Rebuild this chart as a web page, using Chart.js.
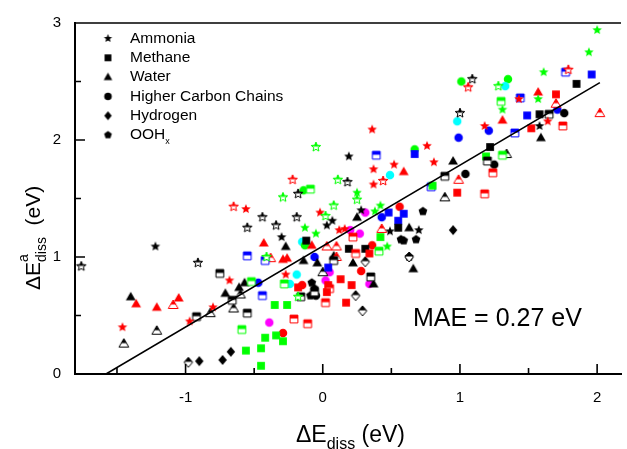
<!DOCTYPE html>
<html>
<head>
<meta charset="utf-8">
<script src="https://cdn.jsdelivr.net/npm/chart.js@4.4.0/dist/chart.umd.min.js"></script>
<style>
body { margin: 0; background: #fff; }
#wrap { width: 627px; height: 449px; position: relative; }
</style>
</head>
<body>
<div id="wrap"><canvas id="chart"></canvas></div>
<script>
// each point: [dE_diss, dE_a_diss, group]  group letter = colour family, trailing 'h' = half filled symbol
const ammonia = [
	[-0.65, 1.43, 'rh'], [-0.56, 1.41, 'r'], [-0.55, 1.25, 'kh'], [-1.22, 1.09, 'k'], [-1.76, 0.92, 'kh'],
	[-0.91, 0.95, 'kh'], [-0.68, 0.80, 'r'], [-0.80, 0.57, 'r'], [-0.97, 0.45, 'r'], [-1.46, 0.40, 'r'],
	[0.36, 2.09, 'r'], [-0.05, 1.94, 'gh'], [0.76, 1.95, 'r'], [0.19, 1.86, 'k'], [0.52, 1.79, 'r'],
	[0.37, 1.75, 'r'], [-0.22, 1.66, 'rh'], [0.11, 1.66, 'gh'], [0.18, 1.64, 'kh'], [0.37, 1.62, 'r'],
	[0.44, 1.65, 'rh'], [-0.18, 1.54, 'kh'], [-0.29, 1.51, 'gh'], [0.25, 1.55, 'g'], [0.25, 1.49, 'gh'],
	[0.08, 1.44, 'gh'], [-0.02, 1.38, 'r'], [0.02, 1.35, 'gh'], [0.42, 1.44, 'g'], [-0.44, 1.34, 'kh'],
	[-0.19, 1.34, 'kh'], [0.07, 1.31, 'k'], [0.03, 1.27, 'k'], [0.28, 1.40, 'k'], [0.38, 1.39, 'g'],
	[0.70, 1.23, 'k'], [-0.34, 1.27, 'kh'], [-0.13, 1.25, 'g'], [-0.30, 1.17, 'k'], [-0.05, 1.20, 'g'],
	[0.12, 1.23, 'r'], [0.16, 1.24, 'r'], [0.49, 1.22, 'k'], [0.47, 1.09, 'g'], [-0.27, 0.85, 'r'],
	[-0.18, 0.66, 'gh'], [-0.41, 1.00, 'gh'],
	[2.00, 2.94, 'g'], [1.94, 2.75, 'g'], [1.61, 2.58, 'g'], [1.79, 2.60, 'rh'], [1.09, 2.52, 'kh'],
	[1.06, 2.45, 'rh'], [1.28, 2.46, 'gh'], [1.57, 2.35, 'g'], [1.43, 2.35, 'r'], [1.31, 2.26, 'g'],
	[1.00, 2.23, 'kh'], [1.18, 2.12, 'r'], [1.64, 2.16, 'r'], [1.58, 2.12, 'k'], [0.81, 1.81, 'r']
];
const methane = [
	[-0.55, 1.01, 'bh'], [-0.75, 0.86, 'kh'], [-0.52, 0.79, 'gh'], [-0.66, 0.63, 'kh'], [-0.92, 0.49, 'kh'],
	[-0.55, 0.52, 'kh'], [-0.59, 0.38, 'gh'], [-0.56, 0.20, 'g'],
	[0.67, 1.88, 'b'], [0.39, 1.87, 'bh'], [-0.09, 1.58, 'gh'], [0.48, 1.38, 'b'], [0.59, 1.37, 'b'],
	[0.55, 1.31, 'b'], [0.55, 1.25, 'k'], [0.22, 1.17, 'rh'], [0.42, 1.17, 'g'], [-0.12, 1.14, 'k'],
	[0.19, 1.07, 'k'], [0.24, 1.03, 'rh'], [0.31, 1.07, 'k'], [0.41, 1.05, 'gh'],
	[-0.42, 0.97, 'bh'], [0.08, 0.97, 'kh'], [0.34, 1.03, 'r'], [0.04, 0.91, 'b'], [-0.28, 0.77, 'gh'],
	[-0.18, 0.74, 'r'], [-0.06, 0.70, 'kh'], [0.04, 0.76, 'r'], [0.05, 0.73, 'rh'], [0.03, 0.70, 'r'],
	[0.13, 0.81, 'r'], [0.21, 0.76, 'r'], [0.35, 0.83, 'kh'], [0.17, 0.61, 'r'], [0.02, 0.61, 'rh'],
	[-0.16, 0.66, 'kh'], [-0.35, 0.59, 'g'], [-0.26, 0.59, 'g'], [-0.44, 0.67, 'bh'], [-0.21, 0.47, 'rh'],
	[-0.11, 0.43, 'rh'], [-0.34, 0.33, 'g'], [-0.42, 0.31, 'g'], [-0.29, 0.28, 'g'], [-0.45, 0.22, 'g'],
	[-0.45, 0.07, 'g'],
	[1.96, 2.56, 'b'], [1.77, 2.58, 'bh'], [1.85, 2.48, 'k'], [1.30, 2.33, 'gh'], [1.44, 2.36, 'bh'],
	[1.70, 2.39, 'r'], [1.49, 2.21, 'b'], [1.58, 2.22, 'k'], [1.65, 2.22, 'kh'], [1.52, 2.10, 'r'],
	[1.75, 2.12, 'rh'], [1.40, 2.06, 'bh'],
	[1.22, 1.94, 'k'], [1.19, 1.86, 'g'], [1.20, 1.82, 'kh'], [1.31, 1.87, 'gh'], [1.24, 1.72, 'rh'],
	[0.89, 1.69, 'kh'], [0.79, 1.60, 'bh'], [0.80, 1.61, 'g'], [0.98, 1.55, 'r'], [1.18, 1.54, 'rh']
];
const water = [
	[-0.57, 0.78, 'k'], [-0.61, 0.74, 'k'], [-1.40, 0.66, 'k'], [-1.36, 0.60, 'r'], [-1.21, 0.57, 'r'],
	[-1.09, 0.59, 'rh'], [-1.05, 0.65, 'r'], [-0.71, 0.69, 'k'], [-0.60, 0.68, 'kh'], [-0.65, 0.56, 'kh'],
	[-0.82, 0.52, 'kh'], [-1.21, 0.37, 'kh'], [-1.45, 0.26, 'kh'],
	[0.59, 1.73, 'r'], [0.25, 1.34, 'k'], [0.63, 1.25, 'k'], [-0.43, 1.12, 'r'], [-0.27, 1.09, 'k'],
	[-0.08, 1.10, 'r'], [0.03, 1.09, 'rh'], [0.10, 1.09, 'rh'], [0.43, 1.24, 'rh'], [-0.38, 0.99, 'rh'],
	[-0.29, 0.98, 'r'], [-0.26, 0.99, 'r'], [-0.14, 0.97, 'k'], [-0.04, 0.95, 'k'], [0.08, 1.01, 'k'],
	[0.10, 1.00, 'rh'], [0.22, 0.95, 'k'], [0.66, 0.90, 'k'], [0.00, 0.87, 'kh'], [0.37, 0.77, 'k'],
	[1.57, 2.41, 'r'], [1.70, 2.31, 'rh'], [1.31, 2.17, 'r'], [2.02, 2.23, 'rh'], [1.59, 2.02, 'k'],
	[0.95, 1.82, 'k'], [1.34, 1.88, 'kh'], [0.99, 1.66, 'rh'], [0.89, 1.51, 'kh']
];
const carbonChains = [
	[0.67, 1.92, 'g'], [0.49, 1.70, 'c'], [-0.14, 1.57, 'g'], [0.31, 1.38, 'm'], [0.43, 1.34, 'b'],
	[0.56, 1.43, 'r'], [0.20, 1.23, 'm'], [0.27, 1.20, 'm'], [-0.15, 1.13, 'c'], [-0.13, 1.10, 'g'],
	[0.36, 1.10, 'r'], [-0.06, 1.00, 'b'],
	[-0.47, 0.78, 'b'], [-0.19, 0.85, 'c'], [-0.24, 0.77, 'c'], [-0.15, 0.76, 'r'], [-0.05, 0.67, 'k'],
	[0.05, 0.87, 'm'], [0.02, 0.80, 'm'], [0.28, 0.88, 'r'], [0.34, 0.77, 'm'], [-0.39, 0.44, 'm'],
	[-0.29, 0.35, 'r'],
	[1.01, 2.50, 'g'], [1.35, 2.52, 'g'], [1.33, 2.46, 'c'], [0.98, 2.16, 'c'], [1.71, 2.26, 'b'],
	[1.76, 2.23, 'k'], [1.21, 2.08, 'b'], [0.99, 2.02, 'b'], [1.25, 1.79, 'k'], [1.04, 1.71, 'k']
];
const hydrogen = [
	[-0.67, 0.19, 'k'], [-0.73, 0.12, 'k'], [-0.90, 0.11, 'k'], [-0.98, 0.10, 'kh'], [0.31, 0.96, 'kh'],
	[0.63, 1.00, 'kh'], [0.24, 0.67, 'kh'], [0.29, 0.54, 'kh'], [0.95, 1.23, 'k']
];
const oohx = [
	[0.73, 1.39, 'k'], [0.57, 1.15, 'k'], [0.59, 1.14, 'k'], [0.68, 1.15, 'k'], [0.63, 1.00, 'k'],
	[-0.08, 0.78, 'k'], [-0.06, 0.73, 'k'], [-0.09, 0.67, 'k']
];

const fitX = [-1.58, 2.02];
const fitY = [0, 2.49];
const xTicks = [-1, 0, 1, 2];
const yTicks = [0, 1, 2, 3];
const maeText = 'MAE = 0.27 eV';

const FONT = '"Liberation Sans", Arial, sans-serif';
const colours = { k: '#000000', r: '#ff0000', g: '#00ff00', b: '#0000ff', c: '#00ffff', m: '#ff00ff' };

function shapePath(c, shape, cx, cy, r) {
	c.beginPath();
	if (shape === 'star') {
		for (let i = 0; i < 10; i++) {
			let rr = i % 2 ? r * 0.45 : r;
			let a = -Math.PI / 2 + i * Math.PI / 5;
			c.lineTo(cx + rr * Math.cos(a), cy + rr * Math.sin(a));
		}
	} else if (shape === 'square') {
		c.rect(cx - r * 0.78, cy - r * 0.78, r * 1.56, r * 1.56);
	} else if (shape === 'triangle') {
		c.moveTo(cx, cy - r);
		c.lineTo(cx + r * 0.98, cy + r * 0.7);
		c.lineTo(cx - r * 0.98, cy + r * 0.7);
	} else if (shape === 'circle') {
		c.arc(cx, cy, r * 0.85, 0, Math.PI * 2);
	} else if (shape === 'diamond') {
		c.moveTo(cx, cy - r);
		c.lineTo(cx + r * 0.85, cy);
		c.lineTo(cx, cy + r);
		c.lineTo(cx - r * 0.85, cy);
	} else if (shape === 'pentagon') {
		for (let i = 0; i < 5; i++) {
			let a = -Math.PI / 2 + i * 2 * Math.PI / 5;
			c.lineTo(cx + r * 0.92 * Math.cos(a), cy + r * 0.92 * Math.sin(a));
		}
	}
	c.closePath();
}

const markerCache = {};
function marker(shape, code, r) {
	let key = shape + code + r;
	if (markerCache[key]) return markerCache[key];
	let size = Math.ceil(r * 2 + 4);
	let cv = document.createElement('canvas');
	cv.width = size;
	cv.height = size;
	let c = cv.getContext('2d');
	let col = colours[code[0]];
	let m = size / 2;
	shapePath(c, shape, m, m, r);
	if (code.length > 1) {
		c.fillStyle = '#fff';
		c.fill();
		c.save();
		c.clip();
		c.fillStyle = col;
		c.fillRect(0, 0, size, m - 0.5);
		c.restore();
		c.strokeStyle = col;
		c.lineWidth = 1;
		c.stroke();
	} else {
		c.fillStyle = col;
		c.fill();
	}
	markerCache[key] = cv;
	return cv;
}

const series = [
	{ name: 'Ammonia', shape: 'star', pts: ammonia },
	{ name: 'Methane', shape: 'square', pts: methane },
	{ name: 'Water', shape: 'triangle', pts: water },
	{ name: 'Higher Carbon Chains', shape: 'circle', pts: carbonChains },
	{ name: 'Hydrogen', shape: 'diamond', pts: hydrogen },
	{ name: 'OOH', sub: 'x', shape: 'pentagon', pts: oohx }
];

let datasets = [{
	type: 'line',
	label: 'fit',
	data: fitX.map((x, i) => ({ x: x, y: fitY[i] })),
	borderColor: '#000',
	borderWidth: 1.6,
	pointRadius: 0,
	fill: false
}];
series.forEach(s => {
	datasets.push({
		type: 'scatter',
		label: s.name,
		data: s.pts.map(p => ({ x: p[0], y: p[1], g: p[2] })),
		pointStyle: ctx => marker(s.shape, ctx.raw ? ctx.raw.g : 'k', 5),
		pointRadius: 5
	});
});

// inward ticks, top frame line, legend and the texts with sub/superscripts
const decorations = {
	id: 'decorations',
	afterDraw(chart) {
		let c = chart.ctx;
		let a = chart.chartArea;
		let xs = chart.scales.x, ys = chart.scales.y;
		c.save();
		c.strokeStyle = '#000';
		c.lineWidth = 1.6;
		c.beginPath();
		c.moveTo(a.left - 1, a.top);
		c.lineTo(a.right, a.top);
		for (let v = -1.5; v <= 2; v += 0.5) {
			let px = xs.getPixelForValue(v);
			let len = Number.isInteger(v) ? 10 : 6;
			c.moveTo(px, a.bottom);
			c.lineTo(px, a.bottom - len);
		}
		for (let v = 0.5; v < 3; v += 0.5) {
			let py = ys.getPixelForValue(v);
			let len = Number.isInteger(v) ? 10 : 6;
			c.moveTo(a.left, py);
			c.lineTo(a.left + len, py);
		}
		c.stroke();

		// legend
		c.fillStyle = '#000';
		c.textBaseline = 'middle';
		series.forEach((s, i) => {
			let y = 38.5 + i * 19.3;
			let m = marker(s.shape, 'k', 4.4);
			c.drawImage(m, 108 - m.width / 2, y - m.height / 2);
			c.font = '15.5px ' + FONT;
			c.fillText(s.name, 130, y);
			if (s.sub) {
				let w = c.measureText(s.name).width;
				c.font = '9px ' + FONT;
				c.fillText(s.sub, 130 + w, y + 7);
			}
		});

		c.textBaseline = 'alphabetic';
		c.font = '25px ' + FONT;
		c.fillText(maeText, 413, 326);

		// x axis title
		let x = 296;
		c.font = '23px ' + FONT;
		c.fillText('\u0394E', x, 442);
		x += c.measureText('\u0394E').width;
		c.font = '16px ' + FONT;
		c.fillText('diss', x, 449);
		x += c.measureText('diss').width;
		c.font = '23px ' + FONT;
		c.fillText(' (eV)', x, 442);

		// y axis title
		c.translate(40, 290);
		c.rotate(-Math.PI / 2);
		x = 0;
		c.font = '21px ' + FONT;
		c.fillText('\u0394E', x, 0);
		x += c.measureText('\u0394E').width;
		c.font = '14px ' + FONT;
		c.fillText('a', x, -12);
		c.fillText('diss', x, 6);
		x += c.measureText('diss').width;
		c.font = '21px ' + FONT;
		c.fillText('  (eV)', x, 0);
		c.restore();
	}
};

new Chart(document.getElementById('chart'), {
	data: { datasets: datasets },
	options: {
		responsive: true,
		maintainAspectRatio: false,
		devicePixelRatio: 1,
		animation: false,
		layout: { padding: { top: 21, right: 0, left: 0, bottom: 0 } },
		plugins: { legend: { display: false }, tooltip: { enabled: false } },
		scales: {
			x: {
				type: 'linear',
				min: -1.806,
				max: 2.174,
				afterFit: s => { s.height = 75; },
				afterBuildTicks: s => { s.ticks = xTicks.map(v => ({ value: v })); },
				grid: { display: false, drawTicks: false },
				border: { display: true, color: '#000', width: 2 },
				ticks: { padding: 15, color: '#000', maxRotation: 0, autoSkip: false, font: { family: FONT, size: 15 }, callback: v => String(v) }
			},
			y: {
				type: 'linear',
				min: 0,
				max: 3,
				afterFit: s => { s.width = 75; },
				afterBuildTicks: s => { s.ticks = yTicks.map(v => ({ value: v })); },
				grid: { display: false, drawTicks: false },
				border: { display: true, color: '#000', width: 2 },
				ticks: { padding: 14, color: '#000', font: { family: FONT, size: 15 }, callback: v => String(v) }
			}
		}
	},
	plugins: [decorations]
});
</script>
</body>
</html>
